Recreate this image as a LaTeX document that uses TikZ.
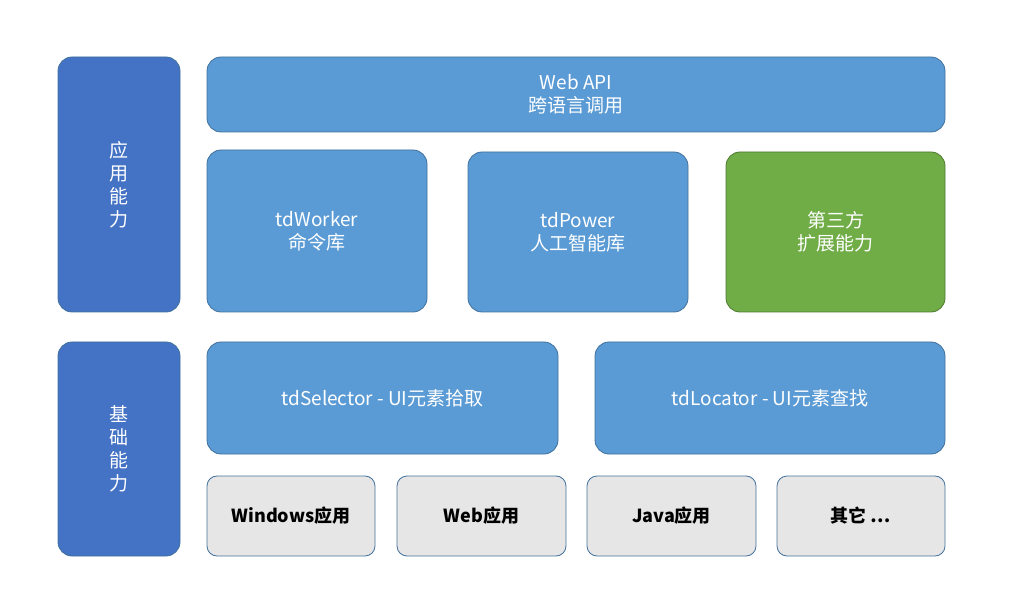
\documentclass[tikz,border=0pt]{standalone}
\usepackage{fontspec}
\setmainfont{Noto Sans CJK SC}
\definecolor{layerblue}{HTML}{4472C4}
\definecolor{modblue}{HTML}{5B9BD5}
\definecolor{modgreen}{HTML}{70AD47}
\definecolor{edgeblue}{HTML}{41719C}
\definecolor{appgray}{HTML}{E7E6E6}
\tikzset{
  box/.style={draw=edgeblue, line width=0.8pt, rounded corners=14pt, text=white,
    font=\fontsize{19}{23}\selectfont, align=center, inner sep=0pt},
  layer/.style={box, fill=layerblue},
  module/.style={box, fill=modblue},
  extmod/.style={box, fill=modgreen, draw=modgreen!70!black},
  app/.style={box, fill=appgray, text=black, rounded corners=10pt,
    font=\fontsize{18}{22}\selectfont\bfseries},
}
\newcommand\mkbox[6]{% style, name, x1, y1, x2, y2
  \node[#1, minimum width=#5-#3, minimum height=#6-#4] (#2) at ({(#3+#5)/2},{-(#4+#6)/2})}
\begin{document}
\begin{tikzpicture}[x=1pt,y=1pt]
\useasboundingbox (0,0) rectangle (1009,-609);
% layers
\mkbox{layer}{appLayer}{58}{57}{180}{312} {应\\用\\能\\力};
\mkbox{layer}{baseLayer}{58}{342}{180}{556} {基\\础\\能\\力};
% application modules
\mkbox{module}{webApi}{207}{57}{945}{132} {Web API\\跨语言调用};
\mkbox{module}{tdWorker}{207}{150}{427}{312} {tdWorker\\命令库};
\mkbox{module}{tdPower}{468}{152}{688}{312} {tdPower\\人工智能库};
\mkbox{extmod}{thirdParty}{726}{152}{945}{312} {第三方\\扩展能力};
% base modules
\mkbox{module}{tdSelector}{207}{342}{558}{454} {tdSelector - UI元素拾取};
\mkbox{module}{tdLocator}{595}{342}{945}{454} {tdLocator - UI元素查找};
% targets
\mkbox{app}{winApp}{207}{476}{375}{556} {Windows应用};
\mkbox{app}{webApp}{397}{476}{566}{556} {Web应用};
\mkbox{app}{javaApp}{587}{476}{756}{556} {Java应用};
\mkbox{app}{otherApp}{777}{476}{945}{556} {其它 …};
\end{tikzpicture}
\end{document}
